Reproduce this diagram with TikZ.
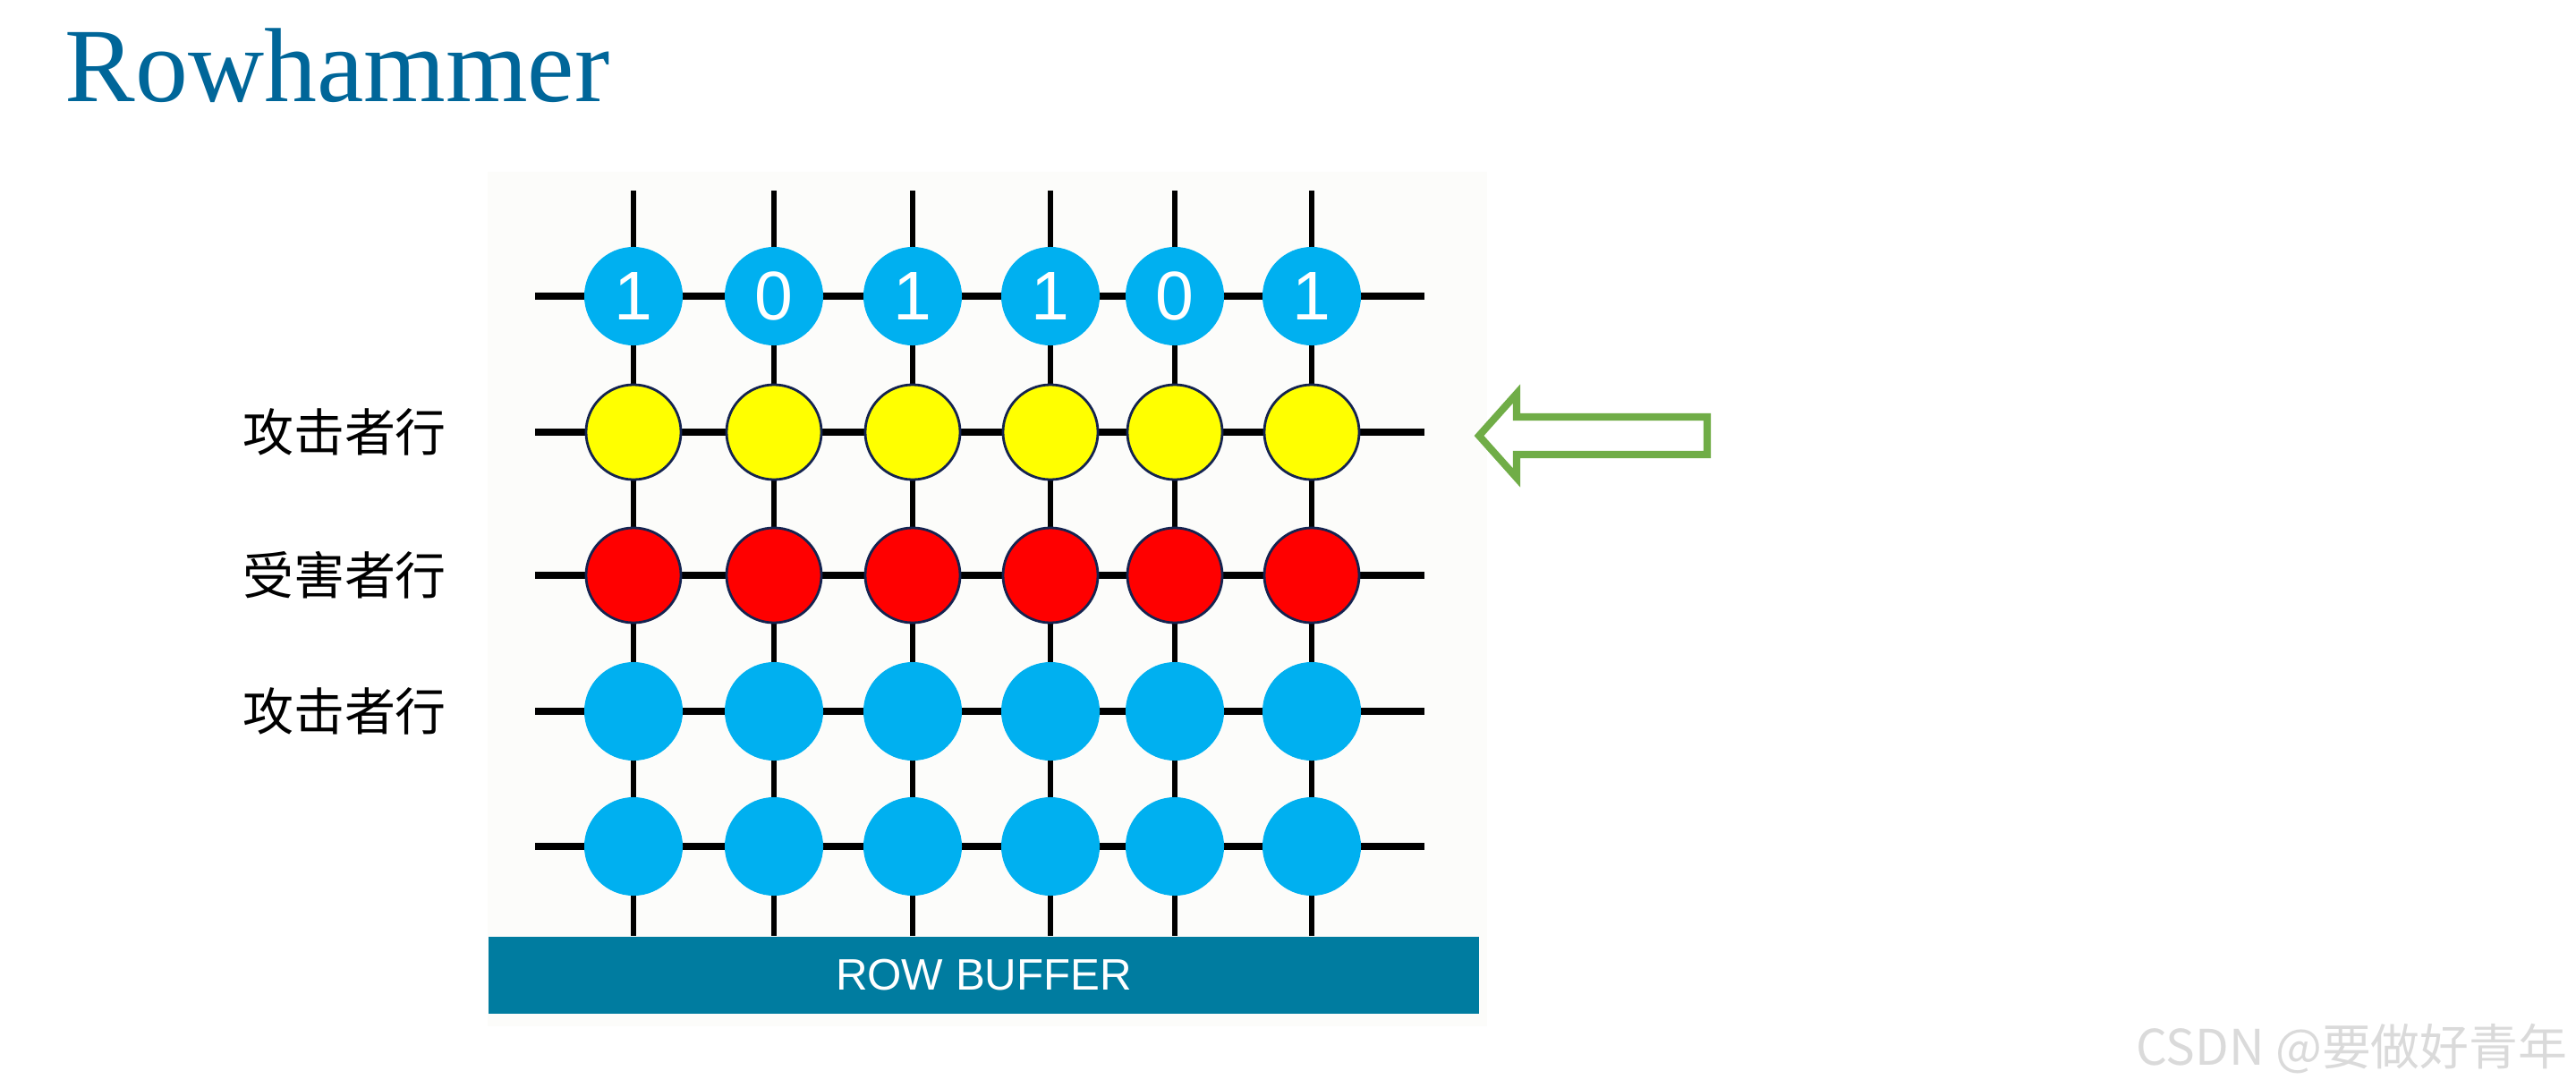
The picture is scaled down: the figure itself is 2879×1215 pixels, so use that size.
\documentclass[tikz,border=0pt]{standalone}
\usepackage{fontspec}
\setmainfont{Liberation Serif}
\newfontfamily\cjk{Noto Sans CJK SC}
\newfontfamily\arialfont{Liberation Sans}
\usepackage{tikz}
\usetikzlibrary{arrows.meta,positioning,calc}
\tikzset{>=Stealth}
\definecolor{titlecolor}{RGB}{0,102,153}
\definecolor{cellblue}{RGB}{0,176,240}
\definecolor{cellyellow}{RGB}{255,255,0}
\definecolor{cellred}{RGB}{255,0,0}
\definecolor{cellrim}{RGB}{20,35,80}
\definecolor{buffercolor}{RGB}{0,124,160}
\definecolor{arrowgreen}{RGB}{112,173,71}
\definecolor{panelbg}{RGB}{252,252,250}
\definecolor{markgray}{RGB}{218,218,218}

\begin{document}
\begin{tikzpicture}[x=0.01cm,y=-0.01cm,
  every node/.style={inner sep=0pt},
  cell/.style={circle,minimum size=1.1cm,fill=cellblue},
  hotcell/.style={cell,minimum size=1.06cm,draw=cellrim,line width=0.8pt},
  wordline/.style={line width=2.3pt},
  bitline/.style={line width=1.7pt},
  rowlabel/.style={font=\cjk\fontsize{16.2}{19}\selectfont}]
\fill[white] (0,0) rectangle (2879,1215);
\useasboundingbox (0,0) rectangle (2879,1215);
\fill[panelbg] (545,192) rectangle (1662,1147);
\node[anchor=base west,text=titlecolor,font=\fontsize{33.5}{40}\selectfont] (title) at (72,113) {Rowhammer};
\node[fill=buffercolor,minimum width=11.07cm,minimum height=0.86cm,text=white,
  font=\arialfont\fontsize{14}{16}\selectfont] (buffer) at (1099.5,1090) {ROW BUFFER};
\foreach \x [count=\i] in {708,865,1020,1174,1313,1466}{
  \coordinate (top-\i) at (\x,213);
  \draw[bitline] (top-\i) -- (top-\i |- buffer.north);
}
\foreach \y [count=\j] in {331,483,643,795,946}{
  \coordinate (left-\j) at (598,\y);
  \coordinate (right-\j) at (1592,\y);
  \draw[wordline] (left-\j) -- (right-\j);
}
\foreach \x/\b [count=\i] in {708/1,865/0,1020/1,1174/1,1313/0,1466/1}
  \node[cell,text=white,font=\arialfont\fontsize{21.9}{24}\selectfont] (cell-1-\i) at (\x,331) {\b};
\foreach \x [count=\i] in {708,865,1020,1174,1313,1466}{
  \node[hotcell,fill=cellyellow] (cell-2-\i) at (\x,483) {};
  \node[hotcell,fill=cellred] (cell-3-\i) at (\x,643) {};
}
\foreach \y [count=\j from 4] in {795,946}
  \foreach \x [count=\i] in {708,865,1020,1174,1313,1466}
    \node[cell] (cell-\j-\i) at (\x,\y) {};
\node[rowlabel] (aggr-up) at (385,483) {攻击者行};
\node[rowlabel] (victim) at (385,643) {受害者行};
\node[rowlabel] (aggr-down) at (385,795) {攻击者行};
\draw[arrowgreen,line width=2.3pt,line join=miter] (1653,487) -- (1695,440) -- (1695,466)
  -- (1908,466) -- (1908,508) -- (1695,508) -- (1695,534) -- cycle;
\node[anchor=east,text=markgray,font=\cjk\fontsize{15.6}{18}\selectfont] (mark) at (2870,1172) {CSDN @要做好青年};
\end{tikzpicture}
\end{document}
